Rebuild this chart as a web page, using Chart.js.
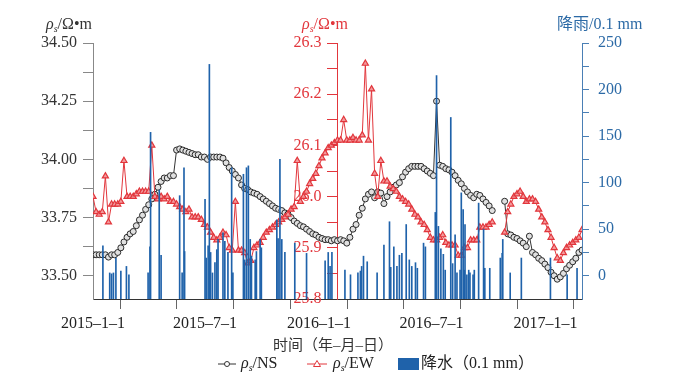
<!DOCTYPE html>
<html>
<head>
<meta charset="utf-8">
<script src="https://cdn.jsdelivr.net/npm/chart.js@4.4.1/dist/chart.umd.min.js"></script>
<style>
  html, body { margin: 0; padding: 0; background: #fff; }
  #wrap { width: 679px; height: 384px; }
</style>
</head>
<body>
<div id="wrap"><canvas id="chart" width="679" height="384"></canvas></div>
<script>
// x is counted in days from 2015-1-1, one reading every STEP days
const STEP = 5;
const X_MAX = 790;          // about 2017-3-1
const EW_AXIS_DAY = 395;    // where the middle red axis stands

// rho_s / NS (left axis)
const nsValues = [
  33.59, 33.59, 33.59, 33.59, 33.59, 33.58, 33.59, 33.59, 33.60, 33.62,
  33.645, 33.665, 33.68, 33.69, 33.715, 33.74, 33.76, 33.785, 33.805, 33.83,
  33.85, 33.88, 33.905, 33.92, 33.92, 33.93, 33.93, 34.04, 34.045, 34.04,
  34.035, 34.03, 34.025, 34.02, 34.02, 34.01, 34.01, 34.00, 34.01, 34.01,
  34.01, 34.01, 34.005, 33.985, 33.965, 33.95, 33.935, 33.92, 33.89, 33.875,
  33.87, 33.86, 33.855, 33.85, 33.84, 33.83, 33.82, 33.81, 33.80, 33.79,
  33.785, 33.78, 33.77, 33.765, 33.75, 33.735, 33.725, 33.715, 33.71, 33.70,
  33.69, 33.68, 33.675, 33.665, 33.66, 33.655, 33.655, 33.65, 33.655, 33.65,
  33.655, 33.65, 33.64, 33.665, 33.70, 33.72, 33.76, 33.79, 33.83, 33.85,
  33.86, 33.835, 33.86, 33.855, 33.81, 33.84, 33.86, 33.88, 33.89, 33.90,
  33.925, 33.945, 33.96, 33.97, 33.97, 33.97, 33.97, 33.96, 33.95, 33.94,
  33.93, 34.25, 33.975, 33.97, 33.96, 33.955, 33.945, 33.93, 33.91, 33.895,
  33.875, 33.86, 33.845, 33.835, 33.85, 33.845, 33.83, 33.815, 33.80, 33.78,
  null, null, null, 33.82, 33.68, 33.675, 33.665, 33.66, 33.65, 33.64,
  33.625, 33.67, 33.60, 33.59, 33.575, 33.565, 33.55, 33.535, 33.515, 33.50,
  33.485, 33.495, 33.51, 33.53, 33.545, 33.56, 33.575, 33.60, 33.61
];

// rho_s / EW (middle red axis)
const ewValues = [
  26.00, 25.97, 25.965, 25.97, 26.04, 25.95, 25.985, 25.985, 25.985, 25.99,
  26.07, 26.00, 26.00, 26.00, 26.005, 26.01, 26.01, 26.01, 26.01, 26.10,
  26.00, 25.995, 26.00, 25.995, 26.00, 25.99, 25.99, 25.985, 25.98, 25.975,
  25.97, 25.975, 25.96, 25.96, 25.96, 25.955, 25.945, 25.94, 25.93, 25.92,
  25.915, 25.92, 25.93, 25.925, 25.90, 25.895, 25.99, 25.895, 25.895, 25.89,
  25.87, 25.875, 25.90, 25.905, 25.91, 25.92, 25.93, 25.935, 25.94, 25.945,
  25.95, 25.955, 25.96, 25.965, 25.975, 25.98, 26.07, 25.99, 26.00, 26.01,
  26.025, 26.035, 26.045, 26.06, 26.075, 26.085, 26.095, 26.10, 26.105, 26.11,
  26.11, 26.15, 26.11, 26.11, 26.115, 26.11, 26.11, 26.12, 26.26, 26.11,
  26.21, 26.045, 26.00, 26.07, 26.03, 26.03, 26.02, 26.015, 26.01, 26.00,
  25.995, 25.99, 25.985, 25.975, 25.965, 25.96, 25.95, 25.945, 25.935, 25.92,
  25.915, 25.915, 25.92, 25.925, 25.91, 25.905, 25.905, 25.905, 25.885, 25.885,
  25.90, 25.90, 25.915, 25.915, 25.915, 25.94, 25.94, 25.94, 25.945, 25.95,
  null, null, null, 25.93, 25.97, 25.985, 26.00, 26.005, 26.01, 26.00,
  25.99, 25.995, 25.995, 25.99, 25.975, 25.96, 25.95, 25.935, 25.92, 25.90,
  25.88, 25.875, 25.89, 25.90, 25.905, 25.91, 25.915, 25.92, 25.935
];

// rainfall bars (0.1 mm): day and amount
const rainDays = [
  16, 27, 30, 33, 37, 45, 54, 58, 89, 92, 93, 107, 110, 140, 144, 147, 148,
  181, 183, 186, 188, 190, 193, 197, 200, 202, 210, 213, 218, 224, 226,
  243, 245, 248, 251, 254, 256, 262, 264, 270, 272, 297, 299, 302, 305, 310,
  326, 345, 375, 380, 383, 386, 407, 416, 428, 432, 434, 437, 443, 459,
  470, 479, 481, 486, 491, 495, 499, 506, 511, 515, 521, 524, 534, 537,
  553, 555, 558, 562, 566, 569, 578, 581, 585, 588, 593, 595, 598, 600,
  601, 604, 607, 609, 614, 616, 623, 631, 633, 641, 658, 661, 662, 674,
  692, 739, 766, 782
];
const rainValues = [
  32, 3, 2, 3, 19, 5, 10, 1, 3, 31, 154, 92, 22, 86, 3, 116, 26,
  82, 19, 32, 227, 25, 3, 14, 28, 39, 46, 37, 25, 116, 3,
  109, 17, 116, 118, 39, 21, 17, 26, 39, 30, 60, 40, 125, 39, 25,
  35, 24, 16, 25, 10, 25, 6, 1, 3, 5, 10, 21, 15, 3,
  33, 58, 9, 31, 10, 22, 24, 55, 17, 10, 14, 8, 35, 31,
  68, 215, 53, 29, 23, 6, 170, 13, 44, 3, 6, 89, 71, 6,
  55, 1, 6, 3, 1, 6, 78, 50, 8, 8, 19, 24, 39, 3,
  19, 19, 1, 8
];

// axis ticks
const xTickDays = [0, 90, 181, 273, 365, 456, 547, 639, 731];
const xTickLabels = ['2015\u20131\u20131', '', '2015\u20137\u20131', '', '2016\u20131\u20131', '', '2016\u20137\u20131', '', '2017\u20131\u20131'];
const nsTickValues = [33.5, 33.625, 33.75, 33.875, 34.0, 34.125, 34.25, 34.375, 34.5];
const nsTickLabels = ['33.50', '', '33.75', '', '34.00', '', '34.25', '', '34.50'];
const ewTickValues = [25.8, 25.85, 25.9, 25.95, 26.0, 26.05, 26.1, 26.15, 26.2, 26.25, 26.3];
const ewTickLabels = ['25.8', '', '25.9', '', '26.0', '', '26.1', '', '26.2', '', '26.3'];
const rainTickValues = [0, 25, 50, 75, 100, 125, 150, 175, 200, 225, 250];
const rainTickLabels = ['0', '', '50', '', '100', '', '150', '', '200', '', '250'];

const SERIF = '"Liberation Serif", "Times New Roman", serif';
const MIXED = '"Liberation Serif", "Noto Sans CJK SC", serif';
const RED = '#e2363c';
const BLUE = '#1f62aa';
const BLUE_TXT = '#2c6aa6';

const nsPoints = nsValues.map((v, i) => ({ x: i * STEP, y: v }));
const ewPoints = ewValues.map((v, i) => ({ x: i * STEP, y: v }));
const rainPoints = rainDays.map((d, i) => ({ x: d, y: rainValues[i] }));

function setTicks(values) {
    return scale => { scale.ticks = values.map(v => ({ value: v })); };
}

// writes a row of text pieces one after the other
function richText(ctx, x, y, parts) {
    parts.forEach(p => {
        ctx.font = p.font;
        ctx.fillStyle = p.color;
        ctx.fillText(p.t, x, y + (p.dy || 0));
        x += ctx.measureText(p.t).width;
    });
    return x;
}

function rhoParts(color, rest) {
    return [
        { t: '\u03c1', font: 'italic 16px ' + SERIF, color: color },
        { t: 's', font: 'italic 10px ' + SERIF, color: color, dy: 4 },
        { t: rest, font: '16px ' + SERIF, color: color }
    ];
}

const textPlugin = {
    id: 'texts',
    afterDraw(chart) {
        const ctx = chart.ctx;
        ctx.save();
        ctx.textBaseline = 'middle';
        ctx.textAlign = 'left';

        // titles above the three axes
        richText(ctx, 46, 25, rhoParts('#333', '/\u03a9\u2022m'));
        richText(ctx, 302, 25, rhoParts(RED, '/\u03a9\u2022m'));
        richText(ctx, 557, 25, [{ t: '\u964d\u96e8/0.1 mm', font: '16px ' + MIXED, color: BLUE_TXT }]);

        // x axis title
        ctx.textAlign = 'center';
        ctx.font = '15px ' + MIXED;
        ctx.fillStyle = '#333';
        ctx.fillText('\u65f6\u95f4\uff08\u5e74\u2013\u6708\u2013\u65e5\uff09', 333, 346);
        ctx.textAlign = 'left';

        // legend
        const ly = 364;
        ctx.lineWidth = 1;
        ctx.strokeStyle = '#333';
        ctx.beginPath(); ctx.moveTo(218, ly); ctx.lineTo(236, ly); ctx.stroke();
        ctx.fillStyle = '#fff';
        ctx.beginPath(); ctx.arc(227, ly, 2.5, 0, Math.PI * 2); ctx.fill(); ctx.stroke();
        richText(ctx, 241, ly, rhoParts('#222', '/NS'));

        ctx.strokeStyle = RED;
        ctx.beginPath(); ctx.moveTo(307, ly); ctx.lineTo(327, ly); ctx.stroke();
        ctx.fillStyle = '#fff';
        ctx.beginPath(); ctx.moveTo(317, ly - 3.5); ctx.lineTo(320.5, ly + 2.5); ctx.lineTo(313.5, ly + 2.5); ctx.closePath(); ctx.fill(); ctx.stroke();
        richText(ctx, 333, ly, rhoParts('#222', '/EW'));

        ctx.fillStyle = BLUE;
        ctx.fillRect(398, ly - 6, 21, 12);
        richText(ctx, 421, ly, [{ t: '\u964d\u6c34\uff080.1 mm\uff09', font: '16px ' + MIXED, color: '#222' }]);
        ctx.restore();
    }
};

new Chart(document.getElementById('chart').getContext('2d'), {
    type: 'bar',
    data: {
        datasets: [
            {
                type: 'bar',
                label: '\u964d\u6c34(0.1 mm)',
                data: rainPoints,
                xAxisID: 'x',
                yAxisID: 'yRain',
                base: -25,
                barThickness: 1,
                backgroundColor: '#1f62aa',
                order: 0
            },
            {
                type: 'line',
                label: 'EW',
                data: ewPoints,
                xAxisID: 'x',
                yAxisID: 'yEW',
                borderColor: RED,
                borderWidth: 1,
                pointStyle: 'triangle',
                pointRadius: 3.5,
                pointBorderWidth: 1.2,
                pointBorderColor: RED,
                pointBackgroundColor: '#f29a9c',
                spanGaps: false,
                order: 1
            },
            {
                type: 'line',
                label: 'NS',
                data: nsPoints,
                xAxisID: 'x',
                yAxisID: 'yNS',
                borderColor: '#333',
                borderWidth: 1,
                pointStyle: 'circle',
                pointRadius: 3,
                pointBorderWidth: 1,
                pointBorderColor: '#2a2a2a',
                pointBackgroundColor: '#e0e0e0',
                spanGaps: false,
                order: 2
            }
        ]
    },
    options: {
        responsive: false,
        animation: false,
        events: [],
        layout: { padding: { top: 43, left: 0, right: 0, bottom: 0 } },
        plugins: {
            legend: { display: false },
            tooltip: { enabled: false }
        },
        scales: {
            x: {
                type: 'linear',
                position: 'bottom',
                min: 0,
                max: X_MAX,
                offset: false,
                afterBuildTicks: setTicks(xTickDays),
                afterFit: s => { s.height = 85; },
                ticks: {
                    autoSkip: false, maxRotation: 0, padding: 5, color: '#222',
                    font: { family: SERIF, size: 16 },
                    callback: (v, i) => xTickLabels[i]
                },
                grid: { drawOnChartArea: false, tickLength: 10, color: '#666' },
                border: { color: '#333' }
            },
            yNS: {
                type: 'linear',
                position: 'left',
                min: 33.40,
                max: 34.50,
                afterBuildTicks: setTicks(nsTickValues),
                afterFit: s => { s.width = 93; },
                ticks: {
                    autoSkip: false, padding: 6, color: '#333',
                    font: { family: SERIF, size: 16 },
                    callback: (v, i) => nsTickLabels[i]
                },
                grid: { drawOnChartArea: false, tickLength: 10, color: '#888' },
                border: { color: '#888' }
            },
            yEW: {
                type: 'linear',
                position: { x: EW_AXIS_DAY },
                min: 25.8,
                max: 26.3,
                afterBuildTicks: setTicks(ewTickValues),
                ticks: {
                    autoSkip: false, color: RED,
                    font: { family: SERIF, size: 16 },
                    // labels of an axis placed inside the plot sit on the axis line, so push them left
                    callback: (v, i) => ewTickLabels[i] ? ewTickLabels[i] + '\u2002\u2002' : ''
                },
                grid: { drawOnChartArea: false, tickLength: 10, color: RED },
                border: { color: RED }
            },
            yRain: {
                type: 'linear',
                position: 'right',
                min: -25,
                max: 250,
                afterBuildTicks: setTicks(rainTickValues),
                afterFit: s => { s.width = 97; },
                ticks: {
                    autoSkip: false, padding: 9, color: BLUE_TXT,
                    font: { family: SERIF, size: 16 },
                    callback: (v, i) => rainTickLabels[i]
                },
                grid: { drawOnChartArea: false, tickLength: 7, color: '#4a7fb5' },
                border: { color: '#4a7fb5' }
            }
        }
    },
    plugins: [textPlugin]
});
</script>
</body>
</html>
